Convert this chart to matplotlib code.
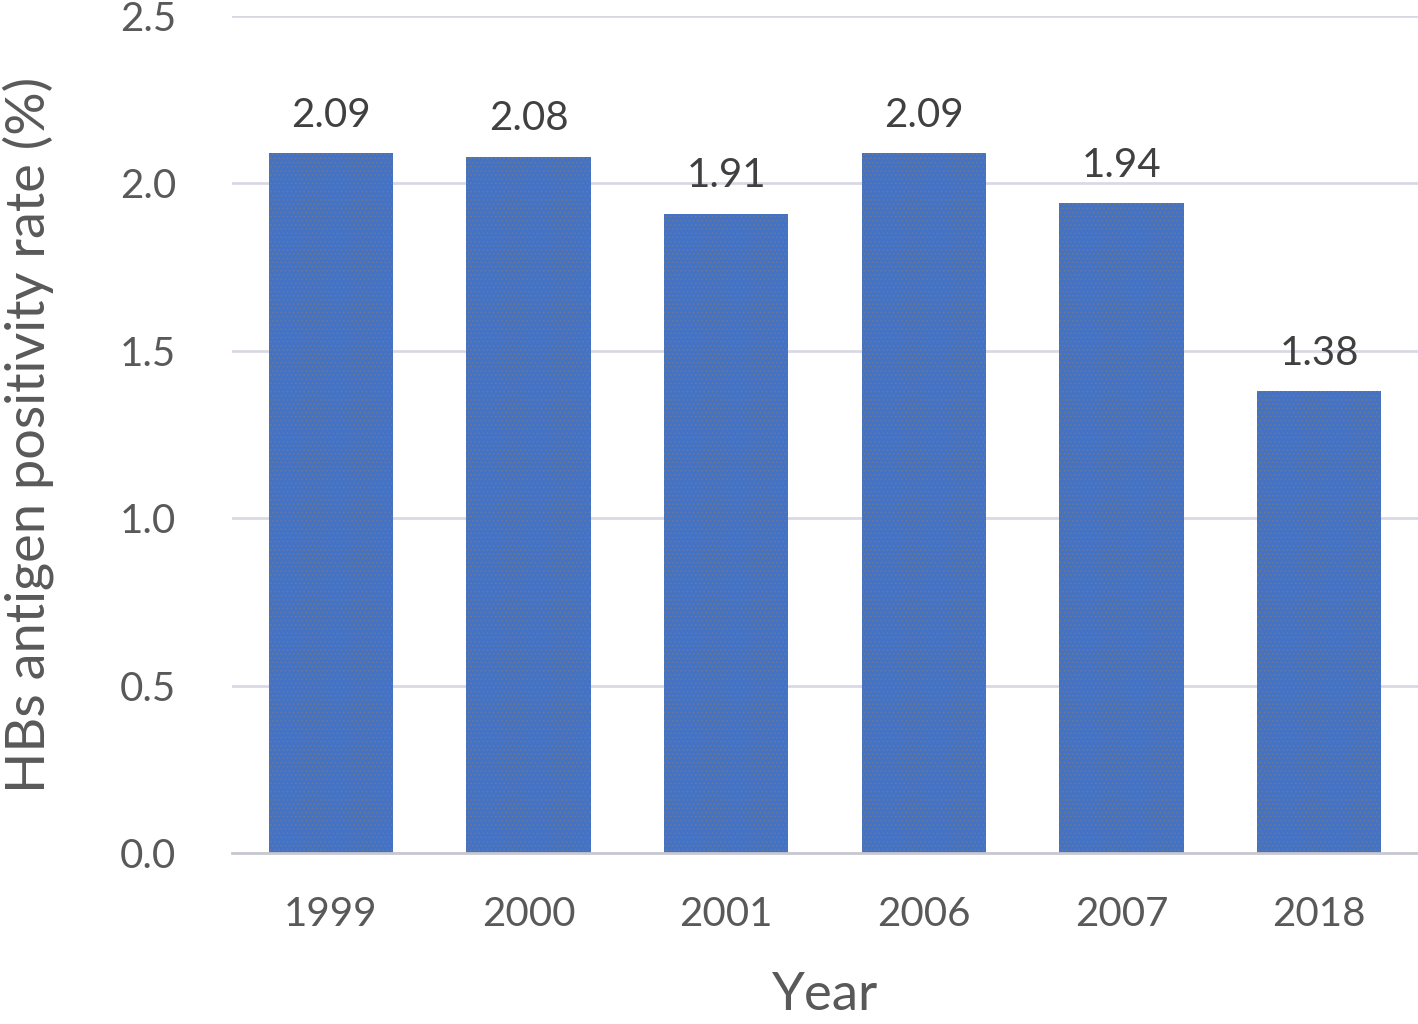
import matplotlib.pyplot as plt

years = ['1999', '2000', '2001', '2006', '2007', '2018']
rates = [2.09, 2.08, 1.91, 2.09, 1.94, 1.38]
yticks = [0.0, 0.5, 1.0, 1.5, 2.0, 2.5]

plt.rcParams['font.family'] = ['Lato', 'DejaVu Sans']
plt.rcParams['hatch.linewidth'] = 0.6
text_color = '#595959'

fig = plt.figure(figsize=(14.18, 10.24), dpi=100)
ax = fig.add_axes([232 / 1418, 171 / 1024, 1186 / 1418, 837 / 1024])

x = range(len(years))
bars = ax.bar(x, rates, width=0.63, color='#4472C4', edgecolor='#6f7a8c',
              linewidth=0, hatch='....', zorder=3)

for xi, v in zip(x, rates):
    ax.annotate(f'{v:.2f}', (xi, v), xytext=(0, 14), textcoords='offset points',
                ha='center', va='bottom', fontsize=29, color='#404040')

ax.set_xlim(-0.5, len(years) - 0.5)
ax.set_ylim(0, 2.5)
ax.set_yticks(yticks)
ax.set_yticklabels([f'{t:.1f}' for t in yticks])
ax.set_xticks(list(x))
ax.set_xticklabels(years)
ax.grid(axis='y', color='#D9D9E6', linewidth=2, zorder=0)
ax.tick_params(axis='both', length=0, labelsize=29, labelcolor=text_color)
ax.tick_params(axis='y', pad=40)
ax.tick_params(axis='x', pad=31)
for s in ['top', 'right', 'left']:
    ax.spines[s].set_visible(False)
ax.spines['bottom'].set_color('#C8C8D0')
ax.spines['bottom'].set_linewidth(2)
ax.spines['bottom'].set_zorder(4)

ax.set_xlabel('Year', fontsize=38, color=text_color, labelpad=28)
ax.set_ylabel('HBs antigen positivity rate (%)', fontsize=39, color=text_color, labelpad=48)

fig.savefig('out.png', dpi=100)
